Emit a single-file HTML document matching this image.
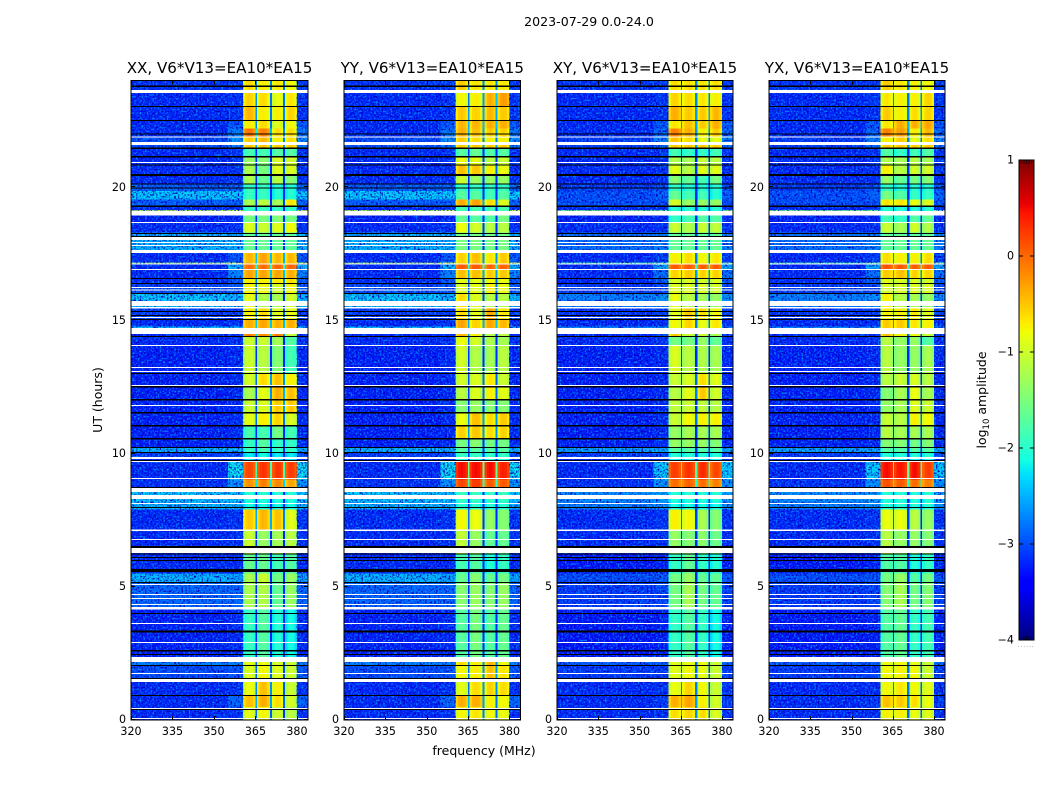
<!DOCTYPE html>
<html lang="en">
<head>
<meta charset="utf-8">
<title>2023-07-29 0.0-24.0</title>
<style>
html,body{margin:0;padding:0;background:#fff;}
#figure{display:block;width:1050px;height:800px;}
text{font-family:"DejaVu Sans","Liberation Sans",sans-serif;fill:#000;}
</style>
</head>
<body>
<svg id="figure" xmlns="http://www.w3.org/2000/svg" width="1050" height="800" viewBox="0 0 1050 800">
  <defs>
    <filter id="speckleDark" x="0" y="0" width="100%" height="100%" color-interpolation-filters="sRGB">
      <feTurbulence type="fractalNoise" baseFrequency="0.55" numOctaves="1" seed="4"/>
      <feColorMatrix type="matrix" values="0 0 0 0 0  0 0 0 0 0  0 0 0 0 0.72  4 0 0 0 -1.85"/>
    </filter>
    <filter id="speckleLight" x="0" y="0" width="100%" height="100%" color-interpolation-filters="sRGB">
      <feTurbulence type="fractalNoise" baseFrequency="0.55" numOctaves="1" seed="11"/>
      <feColorMatrix type="matrix" values="0 0 0 0 0  0 0 0 0 0.55  0 0 0 0 1  0 4 0 0 -2.0"/>
    </filter>
  </defs>
  <text x="589" y="26" font-size="12.6" text-anchor="middle">2023-07-29 0.0-24.0</text>
  <g id="panels"></g>
  <text x="0" y="0" font-size="12.5" text-anchor="middle" transform="translate(102,400) rotate(-90)">UT (hours)</text>
  <text x="484" y="755" font-size="12.5" text-anchor="middle">frequency (MHz)</text>
  <g id="colorbar"></g>
  <text x="0" y="0" font-size="12.5" text-anchor="middle" transform="translate(986,400) rotate(-90)">log<tspan font-size="8.5" dy="3">10</tspan><tspan dy="-3"> amplitude</tspan></text>
  <text x="1026" y="647" font-size="7" text-anchor="middle" style="fill:#999" letter-spacing="0.6">......</text>
</svg>
<script>
// Axis ticks
const freqTicks = [320, 335, 350, 365, 380];
const hourTicks = [0, 5, 10, 15, 20];
const colorTicks = [1, 0, -1, -2, -3, -4];
const panelNames = ["XX", "YY", "XY", "YX"];
const panelTitle = ", V6*V13=EA10*EA15";

// Time segments: start hour (UT), each runs to the next start (last to 24)
const segmentStart = [0,0.47,0.92,1.5,2.05,2.35,4.15,5.16,5.5,6.2,7.15,7.9,8.2,8.7,9.03,9.7,9.85,10.05,10.25,10.55,11.05,11.55,12.05,12.5,13,14.05,14.42,14.71,14.78,15.05,15.5,16,16.35,16.6,16.9,17.14,17.18,17.53,18.3,18.7,19.11,19.15,19.32,19.55,19.86,20.1,20.5,20.85,21.15,21.45,21.7,21.9,22.2,22.5,23.05,23.55];

// log10 amplitude of the off-band background, by segment
const bgParallel = [-3.2,-3.2,-3.2,-3,-2.7,-3.25,-2.85,-2.4,-3.2,-3.2,-3.2,-2.4,-2.3,-3.15,-3.2,-3.2,-3.1,-2.4,-3.25,-3.25,-3.25,-3.25,-3.25,-3.25,-3.25,-3.2,-3.2,-2.4,-3.2,-3.1,-2.3,-3,-3.2,-3.2,-3.2,-1.3,-3.2,-2.4,-3.2,-3.25,-1.2,-3.2,-2.9,-2.3,-2.9,-3.2,-3.2,-3.2,-3.2,-3,-3,-3.2,-3.2,-3.2,-3.2,-3.15];
const bgCross = [-3.2,-3.2,-3.2,-3.1,-2.9,-3.3,-3.1,-3,-3.3,-3.2,-3.2,-2.7,-2.6,-3.15,-3.2,-3.2,-3.1,-2.5,-3.25,-3.25,-3.25,-3.25,-3.25,-3.25,-3.25,-3.2,-3.2,-2.7,-3.2,-3.15,-2.7,-3.1,-3.2,-3.2,-3.2,-1.8,-3.2,-2.8,-3.2,-3.25,-1.5,-3.2,-3,-3,-3.1,-3.2,-3.2,-3.2,-3.2,-3.1,-3.1,-3.2,-3.2,-3.2,-3.2,-3.15];
// log10 amplitude beside the band (just below and above the bright blocks)
const edgeParallel = [-3.15,-2.85,-3.15,-2.95,-2.7,-3.2,-2.85,-2.5,-3.2,-3.15,-3.15,-2.4,-2.3,-2.6,-2.2,-3.15,-3,-2.4,-3.2,-3.2,-3.2,-3.2,-3.2,-3.2,-3.2,-3.15,-3.15,-2.4,-3.15,-3.1,-2.4,-2.95,-2.95,-2.7,-2.4,-1,-2.95,-2.4,-3.15,-3.2,-1,-3.15,-2.9,-2.3,-2.85,-3.15,-3.15,-3.15,-3.15,-2.75,-2.6,-2.75,-2.95,-3.15,-3.15,-3.1];
const edgeCross = [-3.15,-3.1,-3.15,-3.1,-2.9,-3.25,-3.05,-2.95,-3.25,-3.15,-3.15,-2.6,-2.5,-2.6,-2.3,-3.15,-3,-2.5,-3.2,-3.2,-3.2,-3.2,-3.2,-3.2,-3.2,-3.15,-3.15,-2.6,-3.15,-3.1,-2.6,-3.05,-2.95,-2.8,-2.5,-1.6,-3.1,-2.7,-3.15,-3.2,-1.5,-3.15,-3,-2.9,-3,-3.15,-3.15,-3.15,-3.15,-2.85,-2.7,-2.85,-2.95,-3.15,-3.15,-3.1];

// log10 amplitude of the four bright spectral blocks, by segment
const blocksXX = [
[-.85,-.75,-.95,-1.1],[-.45,-.35,-.6,-.95],[-.8,-.45,-.7,-1],[-.9,-.75,-.85,-1],[-.85,-.8,-.9,-1],
[-1.9,-1.7,-2,-2.1],[-1.2,-1.15,-1.6,-1.3],[-1.2,-1,-1.5,-1.3],[-1.6,-1.6,-1.8,-1.7],[-1,-1.3,-1.2,-1.1],
[-.5,-.4,-.45,-.85],[-2.1,-2.1,-2.1,-2.1],[-2,-2,-2,-2],[-.2,-.1,-.15,-.3],[.2,.3,.3,.25],
[-2.2,-2.2,-2.2,-2.2],[-2.2,-2.1,-2.2,-2.2],[-1.9,-1.8,-1.9,-1.9],[-1.9,-1.7,-1.9,-1.9],[-1.8,-1.8,-1.5,-1.8],
[-.85,-.7,-.55,-.9],[-1,-.9,-.5,-.5],[-1.2,-.85,-.35,-.45],[-.95,-.6,-.45,-.7],[-1,-1.1,-1.4,-1.8],
[-1,-1,-1.2,-1.7],[-.1,-.15,-.1,-1],[-.35,-.3,-.35,-.35],[-.35,-.3,-.35,-.35],[-.7,-.6,-.85,-.8],
[-.85,-1.15,-1.2,-.95],[-.75,-.8,-.95,-.75],[-.7,-.7,-.65,-.6],[-.3,-.3,-.3,-.35],[0,0,.05,.05],
[-.4,-.3,-.4,-.4],[-.4,-.3,-.4,-.4],[-1.6,-1.6,-1.6,-1.6],[-.9,-1,-.85,-.75],[-1.5,-1.5,-1.4,-1.5],
[-1.9,-1.9,-1.9,-1.9],[-1.9,-1.9,-1.9,-1.9],[-1.2,-1.1,-1.2,-.65],[-1.9,-1.9,-2,-2],[-1.9,-1.9,-2,-2],
[-1.2,-1.6,-1.1,-1.4],[-1.2,-1.5,-.85,-.9],[-1.3,-1.4,-.9,-.95],[-1.8,-1.8,-1.7,-1.7],[-.5,-.5,-.5,-.5],
[-.5,-.4,-.7,-.6],[-.05,-.1,-.6,-.6],[-.7,-.6,-.85,-.75],[-.4,-.7,-.7,-.55],[-.55,-.6,-.8,-.65],[-.6,-.7,-.65,-.75]];
const blocksYY = [
[-.75,-.65,-.75,-.8],[-.35,-.35,-.7,-.75],[-.85,-.6,-.55,-.6],[-.75,-.7,-.45,-.65],[-.6,-.7,-.4,-.8],
[-1.7,-1.5,-1.7,-1.6],[-1.4,-1.3,-1.4,-1.3],[-1.6,-1.4,-1.6,-1.5],[-1.8,-1.7,-2,-1.9],[-1.05,-1.3,-1.6,-1.6],
[-.75,-.8,-1.3,-1.4],[-2,-2,-2,-2],[-1.9,-1.9,-1.9,-1.9],[.2,.25,.1,.1],[.5,.5,.5,.4],
[-2,-2,-2,-2],[-1.9,-1.9,-1.9,-1.9],[-1.7,-1.7,-1.7,-1.7],[-1.5,-1.4,-1.5,-1.5],[-.55,-.5,-.6,-.55],
[-.8,-.45,-.6,-.5],[-1.4,-1.3,-1.4,-1.4],[-1.1,-.9,-.7,-.85],[-.95,-.9,-.65,-1],[-.95,-1.15,-1.2,-1.1],
[-.8,-.95,-1.15,-1.2],[-.4,-.7,-1.1,-1.1],[-.3,-.55,-.3,-.4],[-.3,-.55,-.3,-.4],[-.6,-.85,-.3,-.65],
[-.6,-.9,-1.1,-1.1],[-.9,-.85,-.7,-.8],[-.85,-.85,-.75,-.8],[-.45,-.45,-.5,-.5],[.1,.1,.05,.05],
[-.55,-.45,-.65,-.5],[-.55,-.45,-.65,-.5],[-1.5,-1.5,-1.5,-1.5],[-.8,-.95,-1.1,-1.1],[-1.6,-1.7,-1.7,-1.5],
[-1.8,-1.8,-1.8,-1.8],[-1.8,-1.8,-1.8,-1.8],[-.35,-.3,-.6,-.9],[-1.7,-1.7,-1.8,-1.7],[-1.9,-1.9,-1.9,-1.9],
[-1,-1.3,-1.3,-1.3],[-.45,-.5,-.7,-.8],[-.8,-.85,-1.1,-1],[-1.7,-1.6,-1.7,-1.7],[-.5,-.5,-.5,-.5],
[-.5,-.6,-.7,-.7],[-.35,-.45,-.5,-.55],[-.4,-.4,-.35,-.35],[-.5,-.55,-.4,-.5],[-.75,-.7,-.35,-.25],[-.5,-.65,-.65,-.65]];
const blocksXY = [
[-.6,-.55,-.6,-.9],[-.35,-.3,-.7,-.95],[-.8,-.55,-.75,-1],[-.85,-.75,-.8,-1],[-.85,-.8,-.8,-1],
[-1.9,-1.7,-1.9,-2.1],[-1.5,-1.2,-1.5,-1.6],[-1.5,-1.3,-1.6,-1.6],[-1.9,-1.6,-1.9,-2],[-1.3,-1.4,-1.35,-1.55],
[-.7,-.75,-1.2,-1.4],[-2.1,-2.1,-2.1,-2.1],[-2,-2,-2,-2],[0,.05,0,-.1],[.25,.3,.35,.2],
[-2.1,-2.1,-2.1,-2.1],[-2,-2,-2,-2],[-1.7,-1.7,-1.7,-1.7],[-1.3,-1.3,-1.3,-1.4],[-1.3,-1.2,-1.2,-1.2],
[-1,-.75,-.7,-.7],[-1.05,-1,-1.05,-1.1],[-1.1,-.85,-.5,-.95],[-1,-.9,-.6,-.85],[-.9,-1.1,-1.15,-1.2],
[-1.5,-1.5,-1.3,-1.6],[-.5,-1,-1,-1.2],[-.75,-.55,-.8,-.65],[-.75,-.55,-.8,-.65],[-.85,-.5,-.6,-.75],
[-.8,-1.1,-1.2,-1.3],[-.85,-.9,-.9,-.95],[-.9,-.9,-.95,-.9],[-.55,-.5,-.55,-.55],[.1,.1,.1,.1],
[-.7,-.6,-.75,-.65],[-.7,-.6,-.75,-.65],[-1.6,-1.6,-1.6,-1.6],[-1,-1.15,-1,-1.05],[-1.9,-1.8,-1.7,-1.7],
[-2,-2,-2,-2],[-2,-2,-2,-2],[-.9,-1.3,-1.3,-1.3],[-1.6,-1.8,-1.8,-2],[-1.9,-2,-2,-2],
[-1.4,-1.6,-1.8,-1.5],[-.85,-1.1,-.85,-.85],[-1.15,-1.2,-1,-1.1],[-1.8,-1.9,-1.9,-1.8],[-.5,-.5,-.5,-.5],
[-.45,-.6,-.8,-.8],[-.1,-.35,-.7,-.5],[-.65,-.45,-.5,-.35],[-.35,-.5,-.5,-.4],[-.55,-.6,-.65,-.7],[-.6,-.6,-.65,-.6]];
const blocksYX = [
[-.7,-.7,-.8,-.85],[-.45,-.5,-.6,-.8],[-.75,-.65,-.75,-.85],[-.75,-.7,-.75,-1],[-.8,-.75,-.8,-1],
[-1.7,-1.6,-1.9,-1.8],[-1.4,-1.2,-1.5,-1.4],[-1.5,-1.3,-1.7,-1.5],[-1.7,-1.7,-2,-1.9],[-1.1,-1.3,-1.3,-1.4],
[-.8,-.8,-1.1,-1.3],[-2,-2,-2,-2],[-2,-2,-2,-2],[.15,.1,0,-.1],[.5,.45,.5,.25],
[-2.1,-2.1,-2.1,-2.1],[-2,-2,-2,-2],[-1.7,-1.7,-1.7,-1.7],[-1.4,-1.4,-1.5,-1.4],[-1.1,-1.2,-1.2,-1.2],
[-1,-1.1,-.7,-.75],[-1.3,-1.2,-.85,-1],[-1.4,-1.2,-.8,-1.2],[-1.1,-1,-.9,-1.1],[-1.1,-1.3,-1.3,-1.2],
[-1.1,-1.3,-1.3,-1.7],[-.45,-.7,-.75,-1],[-.5,-.5,-.65,-.7],[-.5,-.5,-.65,-.7],[-.7,-.7,-.65,-.85],
[-.7,-1.1,-1.2,-1.3],[-.9,-.9,-.85,-.9],[-.85,-.9,-.9,-.95],[-.5,-.45,-.55,-.55],[.15,.1,.1,.1],
[-.6,-.7,-.7,-.6],[-.6,-.7,-.7,-.6],[-1.6,-1.6,-1.6,-1.6],[-1,-1.2,-.95,-1.15],[-1.8,-1.9,-1.7,-1.6],
[-2,-2,-2,-2],[-2,-2,-2,-2],[-.65,-.65,-.8,-.9],[-1.5,-1.7,-1.9,-1.9],[-1.9,-2,-2,-2],
[-1.3,-1.6,-1.5,-1.4],[-.7,-1.1,-.95,-.95],[-1.15,-1.2,-1.1,-1.2],[-1.7,-1.9,-1.8,-1.7],[-.5,-.5,-.5,-.5],
[-.7,-.5,-.8,-.6],[-.1,-.25,-.7,-.4],[-.65,-.35,-.35,-.3],[-.5,-.7,-.6,-.55],[-.65,-.7,-.7,-.55],[-.5,-.65,-.7,-.75]];

// Spectral windows (MHz) and the relative shape across each window (dex)
const blockStartMHz = [360.5, 365.5, 371, 375.7];
const blockEndMHz = [365, 370.2, 375, 380];
const blockProfile = [-0.22, -0.04, 0, -0.04, -0.18];

// Flagged time ranges in hours: white = no data, black = zeroed data
const whiteStart = [0.03,0.4,1.42,1.72,2.17,2.88,3.59,4.14,4.31,4.53,4.68,5.06,6.26,6.75,7.09,8.1,8.29,8.55,9.04,9.68,9.79,11.78,12.54,13.06,13.21,14.04,14.49,15.09,15.45,15.54,16.13,16.22,16.89,17.1,17.53,17.79,17.91,18.02,18.65,18.94,20.91,21.59,21.87,23.55];
const whiteEnd = [0.07,0.44,1.53,1.76,2.35,2.92,3.63,4.23,4.35,4.57,4.72,5.1,6.45,6.79,7.14,8.14,8.44,8.7,9.08,9.72,9.87,11.82,12.58,13.1,13.25,14.08,14.71,15.13,15.5,15.73,16.16,16.26,16.93,17.14,17.64,17.83,17.95,18.13,18.7,19.11,20.95,21.7,21.91,23.66];
const blackStart = [0.36,0.89,1.53,2.02,2.43,2.56,3.27,3.32,3.97,5.14,5.55,5.96,6.07,6.21,6.45,7.95,8.7,9.72,10.02,10.21,10.53,11.01,11.5,11.99,12.48,12.99,14.38,15.01,15.16,15.31,15.99,16.37,16.56,18.13,18.25,19.26,19.95,20.1,20.42,20.82,21.12,21.44,21.98,22.49,23.01,23.77];
const blackEnd = [0.4,0.93,1.57,2.06,2.47,2.62,3.31,3.36,4.01,5.17,5.66,5.99,6.11,6.24,6.53,7.99,8.74,9.76,10.06,10.24,10.58,11.07,11.56,12.05,12.54,13.03,14.42,15.05,15.2,15.35,16.03,16.41,16.6,18.17,18.29,19.32,19.99,20.14,20.5,20.86,21.18,21.49,22.02,22.53,23.05,23.82];

const blocksByPanel = [blocksXX, blocksYY, blocksXY, blocksYX];
const bgByPanel = [bgParallel, bgParallel, bgCross, bgCross];
const edgeByPanel = [edgeParallel, edgeParallel, edgeCross, edgeCross];
const panelLeft = [131, 344, 557, 769];
const panelRight = [308, 520.5, 733, 945];
const plotTop = 80.5, plotBottom = 720;
const freqMin = 320, freqMax = 384, hourMax = 24;
const bgEdgeMHz = 355, tailMHz = 380;
const gapDrop = 2.1, gapFloor = -3.2;
const colorMin = -4, colorMax = 1;
const cbLeft = 1019, cbRight = 1034, cbTop = 160, cbBottom = 640;

const NS = "http://www.w3.org/2000/svg";
function mk(parent, tag, attrs) {
  const el = document.createElementNS(NS, tag);
  for (const k in attrs) el.setAttribute(k, attrs[k]);
  parent.appendChild(el);
  return el;
}
function clamp(x) { return Math.max(0, Math.min(1, x)); }
function jet(v) {
  const t = clamp((v - colorMin) / (colorMax - colorMin));
  const r = t < 0.35 ? 0 : t < 0.66 ? (t - 0.35) / 0.31 : t < 0.89 ? 1 : 1 - 0.5 * (t - 0.89) / 0.11;
  const g = t < 0.125 ? 0 : t < 0.375 ? (t - 0.125) / 0.25 : t < 0.64 ? 1 : t < 0.91 ? 1 - (t - 0.64) / 0.27 : 0;
  const b = t < 0.11 ? 0.5 + 0.5 * t / 0.11 : t < 0.34 ? 1 : t < 0.65 ? 1 - (t - 0.34) / 0.31 : 0;
  return "rgb(" + Math.round(255 * r) + "," + Math.round(255 * g) + "," + Math.round(255 * b) + ")";
}
function yScale(h) { return 719.7 - h * 26.62; }

const panelsRoot = document.getElementById("panels");
panelNames.forEach(function (name, p) {
  const L = panelLeft[p], R = panelRight[p];
  const xScale = function (f) { return L + (f - freqMin) / (freqMax - freqMin) * (R - L); };
  const g = mk(panelsRoot, "g", {});
  
  

  const cells = mk(g, "g", { "shape-rendering": "crispEdges" });
  
  
  function cell(f0, f1, h0, h1, v) {
    const y1 = yScale(h1), y0 = yScale(h0);
    const el = mk(cells, "rect", { x: xScale(f0), y: y1, width: xScale(f1) - xScale(f0), height: y0 - y1, fill: jet(v) });
    
    
  }
  segmentStart.forEach(function (h0, i) {
    const h1 = i + 1 < segmentStart.length ? segmentStart[i + 1] : hourMax;
    const bg = bgByPanel[p][i], edge = edgeByPanel[p][i], lev = blocksByPanel[p][i];
    cell(freqMin, bgEdgeMHz, h0, h1, bg);
    cell(bgEdgeMHz, blockStartMHz[0], h0, h1, edge);
    cell(tailMHz, freqMax, h0, h1, edge);
    lev.forEach(function (v, b) {
      const w = (blockEndMHz[b] - blockStartMHz[b]) / blockProfile.length;
      blockProfile.forEach(function (d, k) {
        cell(blockStartMHz[b] + k * w, blockStartMHz[b] + (k + 1) * w, h0, h1, v + d);
      });
      if (b < lev.length - 1) {
        cell(blockEndMHz[b], blockStartMHz[b + 1], h0, h1, Math.max((v + lev[b + 1]) / 2 - gapDrop, gapFloor));
      }
    });
  });

  // Fine pixel noise texture over the off-band regions
  const texture = mk(g, "g", {});
  
  
  [[freqMin, blockStartMHz[0]], [tailMHz, freqMax]].forEach(function (range) {
    ["speckleDark", "speckleLight"].forEach(function (fid) {
      const r = mk(texture, "rect", {
        x: xScale(range[0]), y: plotTop, width: xScale(range[1]) - xScale(range[0]),
        height: plotBottom - plotTop, fill: "#000", filter: "url(#" + fid + ")"
      });
      
      
    });
  });

  const flags = mk(g, "g", { "shape-rendering": "crispEdges" });
  
  
  blackStart.forEach(function (h0, i) {
    const y1 = yScale(blackEnd[i]);
    const r = mk(flags, "rect", { x: L, y: y1, width: R - L, height: Math.max(1, yScale(h0) - y1), fill: "#000" });
    
    
  });
  whiteStart.forEach(function (h0, i) {
    const y1 = yScale(whiteEnd[i]);
    const r = mk(flags, "rect", { x: L, y: y1, width: R - L, height: Math.max(1, yScale(h0) - y1), fill: "#fff" });
    
    
  });

  // Axes frame, ticks and labels
  const frame = mk(g, "rect", { x: L, y: plotTop, width: R - L, height: plotBottom - plotTop, fill: "none", stroke: "#000", "stroke-width": 1 });
  
  

  freqTicks.forEach(function (f) {
    const x = Math.round(xScale(f)) + 0.5;
    [[plotBottom, plotBottom - 4], [plotTop, plotTop + 4]].forEach(function (seg) {
      const t = mk(g, "line", { x1: x, x2: x, y1: seg[0], y2: seg[1], stroke: "#000", "stroke-width": 1 });
      
      
    });
    const lab = mk(g, "text", { x: xScale(f), y: 735, "font-size": 11.1, "text-anchor": "middle" });
    lab.textContent = String(f);
    
    
  });
  hourTicks.forEach(function (h) {
    const y = Math.round(yScale(h)) - 0.5;
    [[L, L + 4], [R, R - 4]].forEach(function (seg) {
      const t = mk(g, "line", { x1: seg[0], x2: seg[1], y1: y, y2: y, stroke: "#000", "stroke-width": 1 });
      
      
    });
    const lab = mk(g, "text", { x: L - 5, y: yScale(h) + 3.5, "font-size": 11.1, "text-anchor": "end" });
    lab.textContent = String(h);
    
    
  });
  const title = mk(g, "text", { x: (L + R) / 2, y: 73, "font-size": 15.1, "text-anchor": "middle" });
  title.textContent = name + panelTitle;
  
  
});

// Colorbar
const cbRoot = document.getElementById("colorbar");
const cbScale = function (v) { return cbBottom - (v - colorMin) / (colorMax - colorMin) * (cbBottom - cbTop); };
const cbRamp = mk(cbRoot, "g", { "shape-rendering": "crispEdges" });


for (let y = cbTop; y < cbBottom; y += 2) {
  const v = colorMax - (y + 1 - cbTop) / (cbBottom - cbTop) * (colorMax - colorMin);
  const r = mk(cbRamp, "rect", { x: cbLeft, y: y, width: cbRight - cbLeft, height: 2, fill: jet(v) });
  
  
}
const cbFrame = mk(cbRoot, "rect", { x: cbLeft, y: cbTop, width: cbRight - cbLeft, height: cbBottom - cbTop, fill: "none", stroke: "#000", "stroke-width": 1 });


colorTicks.forEach(function (v) {
  const y = cbScale(v);
  [[cbLeft, cbLeft + 4], [cbRight, cbRight - 4]].forEach(function (seg) {
    const t = mk(cbRoot, "line", { x1: seg[0], x2: seg[1], y1: y, y2: y, stroke: "#000", "stroke-width": 1 });
    
    
  });
  const lab = mk(cbRoot, "text", { x: 1014, y: y + 3.5, "font-size": 11.1, "text-anchor": "end" });
  lab.textContent = String(v).replace("-", "\u2212");
  
  
});
for (let i = 0; i < 5; i++) {
  const x = cbLeft + 2.5 + i * 2.5;
  [[cbTop, cbTop + 4], [cbBottom, cbBottom - 4]].forEach(function (seg) {
    const t = mk(cbRoot, "line", { x1: x, x2: x, y1: seg[0], y2: seg[1], stroke: "#000", "stroke-width": 0.7 });
    
    
  });
}
</script>
</body>
</html>
